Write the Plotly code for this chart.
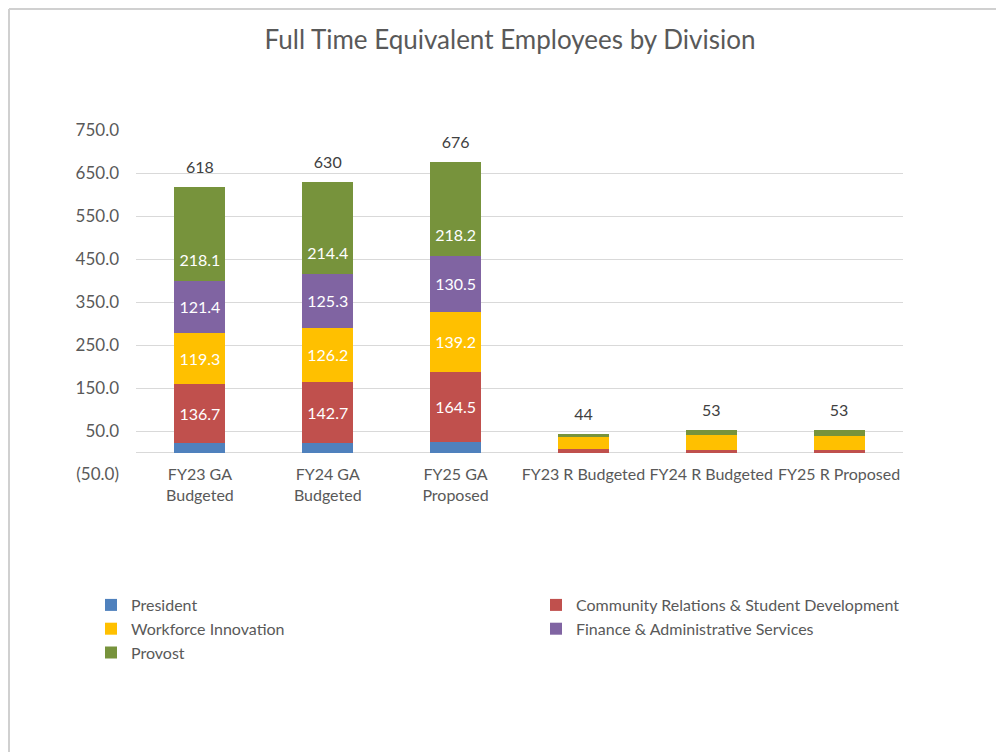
import plotly.graph_objects as go

categories = ["FY23 GA<br>Budgeted", "FY24 GA<br>Budgeted", "FY25 GA<br>Proposed",
              "FY23 R Budgeted", "FY24 R Budgeted", "FY25 R Proposed"]

president = [22.5, 21.4, 23.6, 0.0, 0.0, 0.0]
community = [136.7, 142.7, 164.5, 9.0, 5.0, 5.0]
workforce = [119.3, 126.2, 139.2, 27.0, 35.0, 34.0]
finance = [121.4, 125.3, 130.5, 0.0, 0.0, 0.0]
provost = [218.1, 214.4, 218.2, 8.0, 13.0, 14.0]

series_names = ["President", "Community Relations & Student Development",
                "Workforce Innovation", "Finance & Administrative Services", "Provost"]
series_values = [president, community, workforce, finance, provost]
series_colors = ["#4F81BD", "#C0504D", "#FFC000", "#8064A2", "#77933C"]
# label placement: None = no label, "middle" = centred, float = fraction of segment from its base
label_mode = [None, "middle", "middle", "middle", 0.2]

tick_vals = [-50, 50, 150, 250, 350, 450, 550, 650, 750]
tick_text = ["(50.0)", "50.0", "150.0", "250.0", "350.0", "450.0", "550.0", "650.0", "750.0"]

FONT = "Lato, 'Open Sans', sans-serif"
GREY = "#595959"
LABEL_FONT = dict(color="white", size=16, family=FONT)

fig = go.Figure()
base = [0.0] * len(categories)
extra_labels = []
for name, vals, color, mode in zip(series_names, series_values, series_colors, label_mode):
    texts = [f"{v:.1f}" if (mode == "middle" and v > 50) else "" for v in vals]
    fig.add_trace(go.Bar(
        x=categories, y=vals, name=name, marker=dict(color=color, line=dict(width=0)),
        text=texts, textposition="inside", insidetextanchor="middle",
        textangle=0, constraintext="none",
        textfont=LABEL_FONT,
        hoverinfo="x+y+name",
    ))
    if isinstance(mode, float):
        xs, ys, ts = [], [], []
        for c, b, v in zip(categories, base, vals):
            if v > 50:
                xs.append(c)
                ys.append(b + v * mode)
                ts.append(f"{v:.1f}")
        extra_labels.append((xs, ys, ts))
    base = [b + v for b, v in zip(base, vals)]

for xs, ys, ts in extra_labels:
    fig.add_trace(go.Scatter(
        x=xs, y=ys, mode="text", text=ts, textposition="middle center",
        textfont=LABEL_FONT, showlegend=False, hoverinfo="skip",
    ))

totals = base
fig.add_trace(go.Scatter(
    x=categories, y=totals, mode="markers+text",
    marker=dict(size=14, color="rgba(0,0,0,0)"),
    text=[f"{t:.0f}" for t in totals], textposition="top center",
    textfont=dict(color="#404040", size=16, family=FONT),
    showlegend=False, hoverinfo="skip", cliponaxis=False,
))

# page is offset 8px by the body margin
OFF = 8
W, H = 1004, 752
L, T = 136 - OFF, 130 - OFF
R = 1004 - 895
B = H - (474 - OFF)
pw, ph = W - L - R, H - T - B


def px_x(p):
    return (p - OFF - L) / pw


def px_y(p):
    return (ph + T - (p - OFF)) / ph


fig.update_layout(
    width=W, height=H,
    margin=dict(l=L, r=R, t=T, b=B),
    paper_bgcolor="white", plot_bgcolor="white",
    barmode="stack", bargap=0.6,
    title=dict(text="Full Time Equivalent Employees by Division",
               x=0.5, xanchor="center", y=1 - (40 - OFF) / H, yanchor="middle",
               font=dict(size=26, color=GREY, family=FONT)),
    font=dict(family=FONT, color=GREY, size=16),
    yaxis=dict(range=[-50, 750], tickvals=tick_vals, ticktext=tick_text,
               showgrid=True, gridcolor="#D9D9D9", gridwidth=1,
               zeroline=True, zerolinecolor="#D9D9D9", zerolinewidth=1,
               showline=False, ticks="", ticklabelstandoff=16,
               tickfont=dict(size=17, color=GREY, family=FONT)),
    xaxis=dict(showgrid=False, showline=False, ticks="",
               ticklabelstandoff=-11,
               tickfont=dict(size=16, color=GREY, family=FONT)),
    legend=dict(orientation="h", x=px_x(91), xanchor="left",
                y=px_y(588), yanchor="top",
                entrywidth=400, traceorder="normal",
                font=dict(size=16, color=GREY, family=FONT),
                itemwidth=30, tracegroupgap=0),
    shapes=[
        dict(type="line", xref="paper", yref="paper", x0=px_x(9), x1=px_x(9),
             y0=px_y(770), y1=px_y(9), line=dict(color="#D0D0D0", width=2)),
        dict(type="line", xref="paper", yref="paper", x0=px_x(9), x1=px_x(1020),
             y0=px_y(9), y1=px_y(9), line=dict(color="#D0D0D0", width=2)),
    ],
)

fig.write_html("out.html")
